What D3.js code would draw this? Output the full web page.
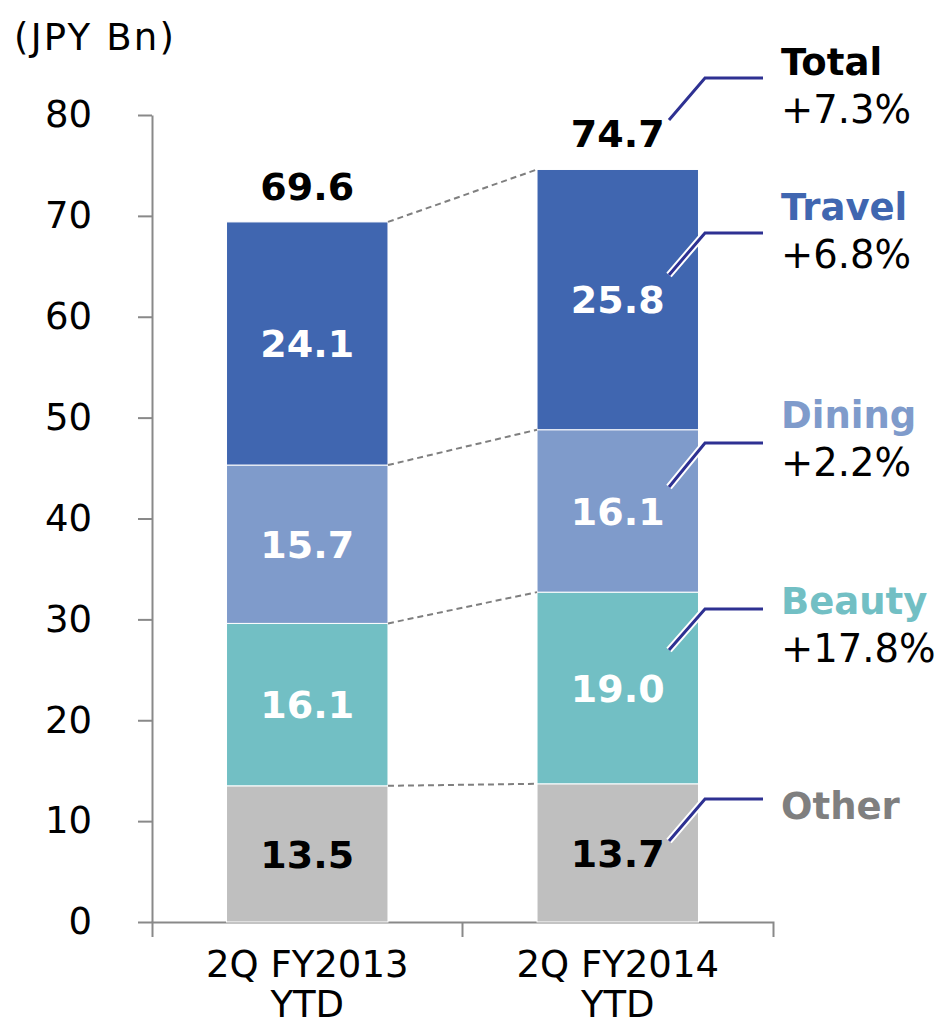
<!DOCTYPE html>
<html>
<head>
<meta charset="utf-8">
<script src="https://cdn.jsdelivr.net/npm/d3@7"></script>
<style>
  html, body { margin: 0; padding: 0; background: #fff; }
  svg { display: block; font-family: "DejaVu Sans", Verdana, sans-serif; }
</style>
</head>
<body>
<svg id="chart" width="944" height="1021"></svg>
<script>
// ---- data ----
const categories = ["2Q FY2013 YTD", "2Q FY2014 YTD"];
const categoryLines = [["2Q FY2013", "YTD"], ["2Q FY2014", "YTD"]];
const seriesNames = ["Other", "Beauty", "Dining", "Travel"];
const otherValues  = [13.5, 13.7];
const beautyValues = [16.1, 19.0];
const diningValues = [15.7, 16.1];
const travelValues = [24.1, 25.8];
const totalLabels  = ["69.6", "74.7"];
const growthNames  = ["Total", "Travel", "Dining", "Beauty", "Other"];
const growthLabels = ["+7.3%", "+6.8%", "+2.2%", "+17.8%", ""];
const yTicks = [0, 10, 20, 30, 40, 50, 60, 70, 80];
const unitLabel = "(JPY Bn)";

// ---- styles ----
const colors = { Other: "#bfbfbf", Beauty: "#72bfc4", Dining: "#7f9bcb", Travel: "#4066b0" };
const inText = { Other: "#000", Beauty: "#fff", Dining: "#fff", Travel: "#fff" };
const nameColors = { Total: "#000", Travel: "#4066b0", Dining: "#7f9bcb", Beauty: "#72bfc4", Other: "#7f7f7f" };
const axisColor = "#898989";
const leaderColor = "#2e3192";

const rows = categories.map((c, i) => ({
  cat: c, Other: otherValues[i], Beauty: beautyValues[i], Dining: diningValues[i], Travel: travelValues[i]
}));

const svg = d3.select("#chart");
svg.append("rect").attr("width", 944).attr("height", 1021).attr("fill", "#fff");

const y = d3.scaleLinear().domain([0, 80]).range([922, 115]);
const x = d3.scaleBand().domain(categories).range([152, 773]).paddingInner(0.48).paddingOuter(0.24);
const bw = x.bandwidth();

const stacked = d3.stack().keys(seriesNames)(rows);

// unit label
svg.append("text").attr("x", 14).attr("y", 50).attr("font-size", 37)
  .attr("letter-spacing", 2.2).attr("fill", "#000").text(unitLabel);

// y axis
const yAxisG = svg.append("g").attr("transform", "translate(152,0)")
  .call(d3.axisLeft(y).tickValues(yTicks).tickSize(14).tickSizeOuter(0).tickPadding(46));
yAxisG.select(".domain").attr("stroke", axisColor).attr("stroke-width", 2);
yAxisG.selectAll(".tick line").attr("stroke", axisColor).attr("stroke-width", 2);
yAxisG.selectAll(".tick text").attr("font-size", 37).attr("fill", "#000")
  .attr("font-family", "DejaVu Sans, sans-serif");

// x axis
const xAxisG = svg.append("g").attr("transform", "translate(0,922)")
  .call(d3.axisBottom(x).tickSize(0).tickSizeOuter(15).tickFormat(""));
xAxisG.select(".domain").attr("stroke", axisColor).attr("stroke-width", 2).attr("fill", "none");
const mid = x(categories[0]) + bw + (x(categories[1]) - x(categories[0]) - bw) / 2;
xAxisG.append("line").attr("x1", mid).attr("x2", mid).attr("y1", 0).attr("y2", 15)
  .attr("stroke", axisColor).attr("stroke-width", 2);
xAxisG.selectAll(".tick").each(function(d, i) {
  const t = d3.select(this).select("text");
  t.attr("font-size", 37).attr("fill", "#000").attr("font-family", "DejaVu Sans, sans-serif")
   .attr("y", 0).attr("dy", null);
  categoryLines[i].forEach((ln, j) => {
    t.append("tspan").attr("x", 0).attr("y", 55 + j * 40).text(ln);
  });
});

// bars
stacked.forEach(s => {
  svg.append("g").selectAll("rect").data(s).join("rect")
    .attr("x", d => x(d.data.cat))
    .attr("y", d => y(d[1]))
    .attr("width", bw)
    .attr("height", d => y(d[0]) - y(d[1]))
    .attr("fill", colors[s.key])
    .attr("stroke", "#fff").attr("stroke-width", 1);
});

// dashed connectors
stacked.forEach(s => {
  svg.append("line")
    .attr("x1", x(categories[0]) + bw).attr("y1", y(s[0][1]))
    .attr("x2", x(categories[1])).attr("y2", y(s[1][1]))
    .attr("stroke", "#7f7f7f").attr("stroke-width", 2).attr("stroke-dasharray", "6,4");
});

// segment labels
stacked.forEach(s => {
  svg.append("g").selectAll("text").data(s).join("text")
    .attr("x", d => x(d.data.cat) + bw / 2)
    .attr("y", d => (y(d[0]) + y(d[1])) / 2)
    .attr("dy", "0.36em")
    .attr("text-anchor", "middle")
    .attr("font-size", 38).attr("font-weight", "bold")
    .attr("fill", inText[s.key])
    .text(d => (d[1] - d[0]).toFixed(1));
});

// totals
const topSeries = stacked[stacked.length - 1];
svg.append("g").selectAll("text").data(topSeries).join("text")
  .attr("x", d => x(d.data.cat) + bw / 2)
  .attr("y", d => y(d[1]) - 22)
  .attr("text-anchor", "middle")
  .attr("font-size", 38).attr("font-weight", "bold").attr("fill", "#000")
  .text((d, i) => totalLabels[i]);

// right annotations (layout)
const annBaseline = [75, 220, 428, 614, 819];
const leaderLow  = [120, 275, 487, 650, 841];
const leaderHigh = [78, 233, 443, 609, 799];
const halo = [false, true, true, true, true];
const lx0 = 669, lx1 = 705, lx2 = 763, tx = 781;

growthNames.forEach((name, i) => {
  const path = `M${lx0},${leaderLow[i]}L${lx1},${leaderHigh[i]}L${lx2},${leaderHigh[i]}`;
  if (halo[i]) {
    svg.append("path").attr("d", path).attr("fill", "none")
      .attr("stroke", "#fff").attr("stroke-width", 7);
  }
  svg.append("path").attr("d", path).attr("fill", "none")
    .attr("stroke", leaderColor).attr("stroke-width", 3);
  svg.append("text").attr("x", tx).attr("y", annBaseline[i])
    .attr("font-size", 37).attr("font-weight", "bold").attr("fill", nameColors[name]).text(name);
  if (growthLabels[i]) {
    svg.append("text").attr("x", tx).attr("y", annBaseline[i] + 48)
      .attr("font-size", 38.5).attr("fill", "#000").text(growthLabels[i]);
  }
});
</script>
</body>
</html>
